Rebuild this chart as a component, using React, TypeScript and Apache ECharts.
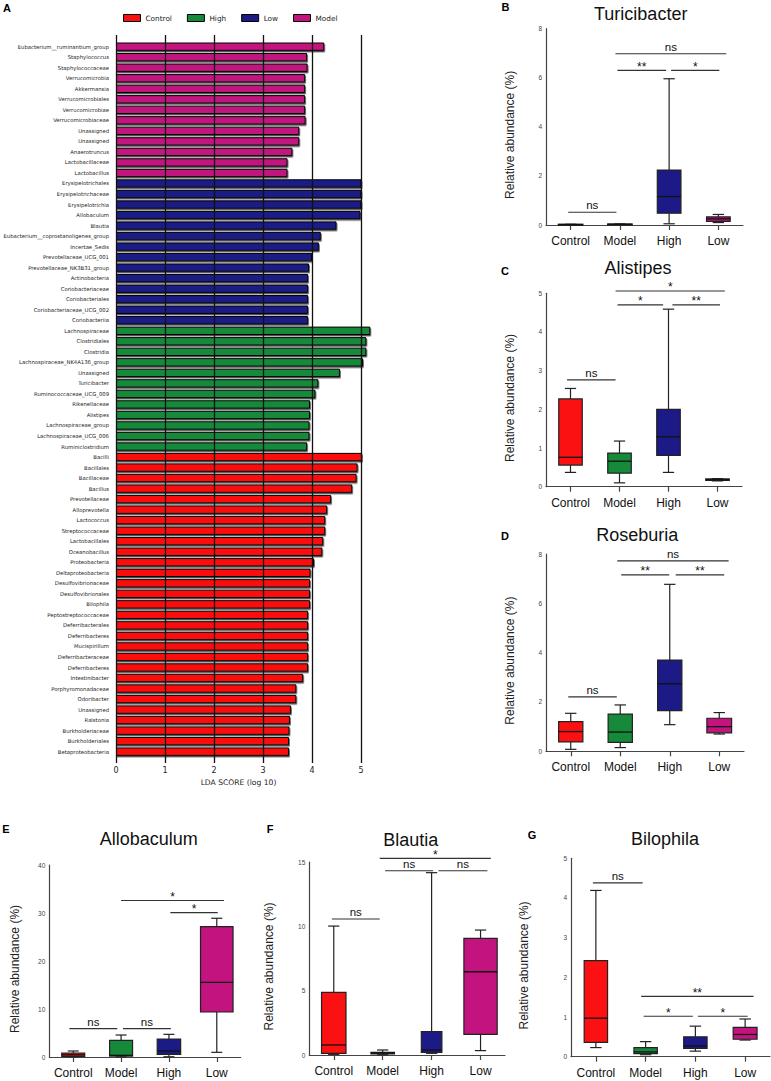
import React, { useEffect, useRef } from "react";
import * as echarts from "echarts";

// ---------- Panel A: LDA scores ----------
const modelTaxa = ["Eubacterium__ruminantium_group", "Staphylococcus", "Staphylococcaceae", "Verrucomicrobia", "Akkermansia", "Verrucomicrobiales", "Verrucomicrobiae", "Verrucomicrobiaceae", "Unassigned", "Unassigned", "Anaerotruncus", "Lactobacillaceae", "Lactobacillus"];
const modelScores = [4.25, 3.90, 3.91, 3.86, 3.86, 3.86, 3.86, 3.87, 3.74, 3.74, 3.60, 3.50, 3.50];
const lowTaxa = ["Erysipelotrichales", "Erysipelotrichaceae", "Erysipelotrichia", "Allobaculum", "Blautia", "Eubacterium__coprostanoligenes_group", "Incertae_Sedis", "Prevotellaceae_UCG_001", "Prevotellaceae_NK3B31_group", "Actinobacteria", "Coriobacteriaceae", "Coriobacteriales", "Coriobacteriaceae_UCG_002", "Coriobacteriia"];
const lowScores = [5.01, 5.01, 5.01, 4.99, 4.50, 4.18, 4.14, 4.00, 3.94, 3.92, 3.92, 3.92, 3.92, 3.92];
const highTaxa = ["Lachnospiraceae", "Clostridiales", "Clostridia", "Lachnospiraceae_NK4A136_group", "Unassigned", "Turicibacter", "Ruminococcaceae_UCG_009", "Rikenellaceae", "Alistipes", "Lachnospiraceae_group", "Lachnospiraceae_UCG_006", "Ruminiclostridium"];
const highScores = [5.19, 5.11, 5.11, 5.04, 4.57, 4.13, 4.07, 3.96, 3.96, 3.95, 3.95, 3.90];
const controlTaxa = ["Bacilli", "Bacillales", "Bacillaceae", "Bacillus", "Prevotellaceae", "Alloprevotella", "Lactococcus", "Streptococcaceae", "Lactobacillales", "Oceanobacillus", "Proteobacteria", "Deltaproteobacteria", "Desulfovibrionaceae", "Desulfovibrionales", "Bilophila", "Peptostreptococcaceae", "Deferribacterales", "Deferribacteres", "Mucispirillum", "Deferribacteraceae", "Deferribacteres", "Intestinibacter", "Porphyromonadaceae", "Odoribacter", "Unassigned", "Ralstonia", "Burkholderiaceae", "Burkholderiales", "Betaproteobacteria"];
const controlScores = [5.02, 4.93, 4.91, 4.82, 4.39, 4.31, 4.27, 4.27, 4.23, 4.21, 4.04, 3.97, 3.96, 3.96, 3.96, 3.92, 3.92, 3.92, 3.92, 3.92, 3.92, 3.82, 3.68, 3.68, 3.57, 3.55, 3.54, 3.53, 3.53];
const ldaLegend = ["Control", "High", "Low", "Model"];
const ldaTicks = [0, 1, 2, 3, 4, 5];

// ---------- Box plot panels: [min, Q1, median, Q3, max] for Control, Model, High, Low ----------
const groups = ["Control", "Model", "High", "Low"];
const turicibacterBox = [[0.01, 0.02, 0.02, 0.03, 0.03], [0.02, 0.03, 0.03, 0.04, 0.04], [0.05, 0.48, 1.16, 2.24, 5.96], [0.10, 0.15, 0.25, 0.33, 0.43]];
const alistipesBox = [[0.37, 0.56, 0.76, 2.27, 2.54], [0.10, 0.35, 0.66, 0.87, 1.18], [0.37, 0.81, 1.29, 2.00, 4.59], [0.15, 0.16, 0.18, 0.20, 0.21]];
const roseburiaBox = [[0.08, 0.38, 0.80, 1.20, 1.54], [0.15, 0.36, 0.78, 1.51, 1.88], [1.08, 1.65, 2.74, 3.70, 6.77], [0.70, 0.75, 1.00, 1.34, 1.57]];
const allobaculumBox = [[0.05, 0.10, 0.45, 0.80, 1.25], [0.02, 0.20, 0.35, 3.47, 4.58], [0.05, 0.56, 1.25, 3.75, 4.72], [0.97, 9.38, 15.56, 27.15, 28.9]];
const blautiaBox = [[0.05, 0.13, 0.78, 4.87, 10.02], [0.02, 0.08, 0.15, 0.20, 0.39], [0.13, 0.20, 0.39, 1.81, 14.17], [0.34, 1.61, 6.47, 9.07, 9.71]];
const bilophilaBox = [[0.23, 0.36, 0.97, 2.42, 4.19], [0.05, 0.08, 0.12, 0.23, 0.38], [0.14, 0.21, 0.27, 0.50, 0.77], [0.42, 0.44, 0.56, 0.74, 0.95]];

// significance brackets: [from (category units), to, y value, label]
const turicibacterSig = [[-0.05, 0.93, 0.52, "ns"], [0.95, 1.94, 6.3, "**"], [2.04, 3.02, 6.3, "*"], [0.91, 3.16, 6.98, "ns"]];
const alistipesSig = [[-0.07, 0.92, 2.76, "ns"], [0.96, 1.89, 4.70, "*"], [2.08, 3.05, 4.70, "**"], [0.92, 3.15, 5.06, "*"]];
const roseburiaSig = [[-0.05, 0.93, 2.21, "ns"], [1.02, 1.99, 7.15, "**"], [2.12, 3.10, 7.15, "**"], [0.94, 3.19, 7.72, "ns"]];
const allobaculumSig = [[-0.08, 0.92, 5.9, "ns"], [1.04, 2.04, 5.9, "ns"], [2.03, 3.02, 30.06, "*"], [1.0, 3.15, 32.6, "*"]];
const blautiaSig = [[-0.04, 0.94, 10.57, "ns"], [1.05, 2.03, 14.32, "ns"], [2.14, 3.14, 14.32, "ns"], [0.94, 3.21, 15.28, "*"]];
const bilophilaSig = [[-0.06, 0.94, 4.38, "ns"], [0.96, 1.95, 1.02, "*"], [2.05, 3.05, 1.02, "*"], [0.91, 3.17, 1.52, "**"]];

const RED = "#fb1111";
const GREEN = "#168a3a";
const NAVY = "#1c1a86";
const MAGENTA = "#c2137f";
const BOX_COLORS = [RED, GREEN, NAVY, MAGENTA];
const LDA_COLORS: Record<string, string> = { Control: RED, High: GREEN, Low: NAVY, Model: MAGENTA };

const ARIAL = '"Liberation Sans", Arial, sans-serif';
const DEJAVU = '"DejaVu Sans", sans-serif';

const panels = [
  { letter: "B", title: "Turicibacter", box: turicibacterBox, sig: turicibacterSig, max: 8, interval: 2, grid: { left: 546, top: 28.7, width: 197, height: 196.3 }, letterPos: [505.5, 7], titlePos: [640.7, 13.5], nameGap: 30, boxW: [0.5, 0.5, 0.48, 0.48] },
  { letter: "C", title: "Alistipes", box: alistipesBox, sig: alistipesSig, max: 5, interval: 1, grid: { left: 546, top: 293.3, width: 196, height: 193.4 }, letterPos: [505, 271], titlePos: [638, 268], nameGap: 30, boxW: [0.48, 0.48, 0.48, 0.48] },
  { letter: "D", title: "Roseburia", box: roseburiaBox, sig: roseburiaSig, max: 8, interval: 2, grid: { left: 546, top: 554, width: 198, height: 197.3 }, letterPos: [505, 535.5], titlePos: [637.3, 535], nameGap: 30, boxW: [0.49, 0.49, 0.49, 0.5] },
  { letter: "E", title: "Allobaculum", box: allobaculumBox, sig: allobaculumSig, max: 40, interval: 10, grid: { left: 49.3, top: 865, width: 191.4, height: 192 }, letterPos: [6, 829], titlePos: [148.7, 839], nameGap: 28, boxW: [0.48, 0.48, 0.49, 0.68] },
  { letter: "F", title: "Blautia", box: blautiaBox, sig: blautiaSig, max: 15, interval: 5, grid: { left: 309.3, top: 862, width: 195.7, height: 193 }, letterPos: [270, 829], titlePos: [410.8, 839.5], nameGap: 34, boxW: [0.5, 0.48, 0.42, 0.68] },
  { letter: "G", title: "Bilophila", box: bilophilaBox, sig: bilophilaSig, max: 5, interval: 1, grid: { left: 571, top: 858.3, width: 199, height: 198.4 }, letterPos: [532, 835], titlePos: [665, 839], nameGap: 41, boxW: [0.47, 0.47, 0.47, 0.48] },
];

function buildOption() {
  const ldaCats = [...modelTaxa, ...lowTaxa, ...highTaxa, ...controlTaxa];
  const segs: [string, number[]][] = [
    ["Model", modelScores],
    ["Low", lowScores],
    ["High", highScores],
    ["Control", controlScores],
  ];
  const ranges: Record<string, (number | string)[]> = {};
  let off = 0;
  segs.forEach(([g, arr]) => {
    const d: (number | string)[] = ldaCats.map(() => "-");
    arr.forEach((v, i) => (d[off + i] = v));
    ranges[g] = d;
    off += arr.length;
  });

  const grid: any[] = [
    { left: 116, top: 41.44, width: 245, height: 715.5 },
    { left: 116, top: 35, width: 245, height: 728 },
  ];
  const xAxis: any[] = [
    { gridIndex: 0, type: "value", min: 0, max: 5, show: false },
    {
      gridIndex: 1, type: "value", min: 0, max: 5, interval: 1, z: 10,
      axisLine: { show: false }, axisTick: { show: false },
      splitLine: { show: true, lineStyle: { color: "#111", width: 1.3 } },
      axisLabel: { fontSize: 8, fontFamily: DEJAVU, color: "#222", margin: 3, formatter: (v: number) => String(ldaTicks[v] ?? v) },
      name: "LDA SCORE (log 10)", nameLocation: "middle", nameGap: 13,
      nameTextStyle: { fontSize: 7.6, fontFamily: DEJAVU, color: "#222" },
    },
  ];
  const yAxis: any[] = [
    {
      gridIndex: 0, type: "category", inverse: true, data: ldaCats,
      axisLine: { show: false }, axisTick: { show: false },
      axisLabel: { fontSize: 5.3, fontFamily: DEJAVU, color: "#222", margin: 7, interval: 0 },
    },
    { gridIndex: 1, type: "value", min: 0, max: 1, show: false },
  ];
  const series: any[] = ldaLegend.map((g) => ({
    name: g,
    type: "bar",
    xAxisIndex: 0,
    yAxisIndex: 0,
    stack: "lda",
    clip: false,
    barWidth: 8.4,
    data: ranges[g],
    itemStyle: {
      color: LDA_COLORS[g], borderColor: "#000", borderWidth: 1,
      shadowColor: "rgba(70,70,70,0.95)", shadowOffsetY: 1.4, shadowOffsetX: 0.8, shadowBlur: 0,
    },
  }));

  const graphic: any[] = [
    { type: "text", x: 7, y: 7.5, style: { text: "A", font: `bold 11px ${ARIAL}`, fill: "#000", textAlign: "center", textVerticalAlign: "middle", align: "center", verticalAlign: "middle" } },
  ];

  panels.forEach((p, k) => {
    const gi = k + 2;
    grid.push({ ...p.grid });
    xAxis.push({
      gridIndex: gi, type: "category", data: groups,
      axisLine: { lineStyle: { color: "#444", width: 1.2 } },
      axisTick: { show: true, alignWithLabel: true, interval: 0, length: 5, lineStyle: { color: "#444", width: 1.2 } },
      axisLabel: { fontSize: 12, fontFamily: ARIAL, color: "#111", margin: 10, interval: 0 },
      splitLine: { show: false },
    });
    yAxis.push({
      gridIndex: gi, type: "value", min: 0, max: p.max, interval: p.interval,
      axisLine: { show: true, lineStyle: { color: "#444", width: 1.2 } },
      axisTick: { show: false },
      splitLine: { show: false },
      axisLabel: { fontSize: 6.5, fontFamily: ARIAL, color: "#444", margin: 4 },
      name: "Relative abundance (%)", nameLocation: "middle", nameRotate: 90, nameGap: p.nameGap,
      nameTextStyle: { fontSize: 12, fontFamily: ARIAL, color: "#222", padding: [0, 16, 0, 0] },
    });
    const boxW = p.boxW;
    series.push({
      type: "custom",
      xAxisIndex: gi,
      yAxisIndex: gi,
      silent: true,
      data: p.box.map((b, i) => [i, ...b]),
      encode: { x: 0, y: [1, 2, 3, 4, 5] },
      renderItem: (params: any, api: any) => {
        const i = api.value(0);
        const mn = api.value(1), q1 = api.value(2), md = api.value(3), q3 = api.value(4), mx = api.value(5);
        const bw = api.size([1, 0])[0];
        const w = bw * boxW[i];
        const cw = bw * 0.23;
        const pMin = api.coord([i, mn]);
        const pQ1 = api.coord([i, q1]);
        const pMd = api.coord([i, md]);
        const pQ3 = api.coord([i, q3]);
        const pMax = api.coord([i, mx]);
        const cx = pMd[0];
        const lineStyle = { stroke: "#222", lineWidth: 1.2 };
        return {
          type: "group",
          children: [
            { type: "line", shape: { x1: cx, y1: pMax[1], x2: cx, y2: pQ3[1] }, style: lineStyle },
            { type: "line", shape: { x1: cx, y1: pQ1[1], x2: cx, y2: pMin[1] }, style: lineStyle },
            { type: "line", shape: { x1: cx - cw / 2, y1: pMax[1], x2: cx + cw / 2, y2: pMax[1] }, style: lineStyle },
            { type: "line", shape: { x1: cx - cw / 2, y1: pMin[1], x2: cx + cw / 2, y2: pMin[1] }, style: lineStyle },
            { type: "rect", shape: { x: cx - w / 2, y: pQ3[1], width: w, height: Math.max(pQ1[1] - pQ3[1], 1) }, style: { fill: BOX_COLORS[i], stroke: "#222", lineWidth: 1.2 } },
            { type: "line", shape: { x1: cx - w / 2, y1: pMd[1], x2: cx + w / 2, y2: pMd[1] }, style: { stroke: "#111", lineWidth: 1.3 } },
          ],
        };
      },
    });
    const sig = p.sig;
    series.push({
      type: "custom",
      xAxisIndex: gi,
      yAxisIndex: gi,
      silent: true,
      data: sig.map((s) => [s[0], s[1], s[2]]),
      encode: { x: 0, y: 2 },
      renderItem: (params: any, api: any) => {
        const x1 = api.value(0), x2 = api.value(1), yv = api.value(2);
        const label = sig[params.dataIndex][3] as string;
        const p0 = api.coord([0, yv]);
        const bw = api.size([1, 0])[0];
        const px1 = p0[0] + x1 * bw;
        const px2 = p0[0] + x2 * bw;
        const py = p0[1];
        const isStar = label.indexOf("*") >= 0;
        return {
          type: "group",
          children: [
            { type: "line", shape: { x1: px1, y1: py, x2: px2, y2: py }, style: { stroke: "#333", lineWidth: 1.2 } },
            {
              type: "text", x: (px1 + px2) / 2, y: isStar ? py + 2.5 : py - 1,
              style: { text: label, font: `${isStar ? 12 : 11.5}px ${ARIAL}`, fill: "#111", textAlign: "center", textVerticalAlign: "bottom", align: "center", verticalAlign: "bottom" },
            },
          ],
        };
      },
    });
    graphic.push({ type: "text", x: p.letterPos[0], y: p.letterPos[1], style: { text: p.letter, font: `bold 11px ${ARIAL}`, fill: "#000", textAlign: "center", textVerticalAlign: "middle", align: "center", verticalAlign: "middle" } });
    graphic.push({ type: "text", x: p.titlePos[0], y: p.titlePos[1], style: { text: p.title, font: `18px ${ARIAL}`, fill: "#111", textAlign: "center", textVerticalAlign: "middle", align: "center", verticalAlign: "middle" } });
  });

  return {
    animation: false,
    backgroundColor: "#ffffff",
    textStyle: { fontFamily: ARIAL },
    legend: {
      data: ldaLegend,
      left: 118, top: 9,
      itemWidth: 17, itemHeight: 7, itemGap: 15,
      icon: "rect",
      selectedMode: false,
      textStyle: { fontSize: 7.3, fontFamily: DEJAVU, color: "#222" },
      itemStyle: { borderColor: "#000", borderWidth: 1, shadowBlur: 0, shadowOffsetX: 0, shadowOffsetY: 0, shadowColor: "transparent" },
    },
    grid, xAxis, yAxis, series, graphic,
  };
}

export default function App() {
  const ref = useRef<HTMLDivElement>(null);
  useEffect(() => {
    if (!ref.current) return;
    const chart = echarts.init(ref.current, undefined, { renderer: "svg" });
    chart.setOption(buildOption() as any);
    return () => chart.dispose();
  }, []);
  return <div ref={ref} style={{ position: "absolute", left: 0, top: 0, width: 771, height: 1081, background: "#fff" }} />;
}
